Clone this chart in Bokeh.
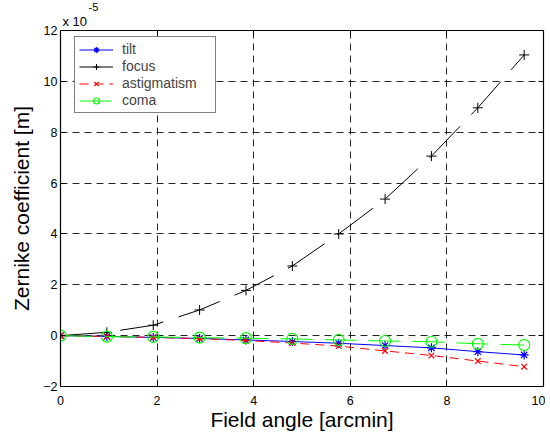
from bokeh.plotting import figure
from bokeh.models import LinearAxis, FixedTicker, Legend, LegendItem, Title
from bokeh.embed import file_html
from bokeh.resources import INLINE

# Data (values in units of 1e-5 m)
field_angle = [0, 0.96, 1.92, 2.88, 3.84, 4.8, 5.76, 6.72, 7.68, 8.64, 9.6]
tilt = [0, -0.03, -0.07, -0.11, -0.17, -0.23, -0.30, -0.39, -0.48, -0.63, -0.76]
focus = [0, 0.13, 0.41, 1.01, 1.78, 2.74, 4.00, 5.37, 7.06, 8.96, 11.04]
astigmatism = [0, -0.03, -0.07, -0.12, -0.19, -0.29, -0.41, -0.60, -0.78, -1.00, -1.22]
coma = [0, -0.04, -0.05, -0.08, -0.10, -0.13, -0.17, -0.21, -0.24, -0.32, -0.37]
x_ticks = [0, 2, 4, 6, 8, 10]
y_ticks = [-2, 0, 2, 4, 6, 8, 10, 12]

FONT = "Liberation Sans"

p = figure(frame_width=483, frame_height=356, x_range=(0, 10), y_range=(-2, 12),
           output_backend="svg", toolbar_location=None, title_location=None,
           min_border_left=60, min_border_top=30, min_border_right=2, min_border_bottom=45,
           background_fill_color="white", border_fill_color="white")
p.outline_line_color = "black"
p.outline_line_width = 1.2

for ax in (p.xaxis[0], p.yaxis[0]):
    ax.major_tick_in = 5
    ax.major_tick_out = 0
    ax.minor_tick_in = 0
    ax.minor_tick_out = 0
    ax.axis_line_color = "black"
    ax.major_label_text_font = FONT
    ax.major_label_text_font_size = "12.5px"
    ax.major_label_text_color = "black"
    ax.axis_label_text_font = FONT
    ax.axis_label_text_font_size = "21px"
    ax.axis_label_text_font_style = "normal"
    ax.axis_label_text_color = "black"
p.xaxis[0].ticker = FixedTicker(ticks=x_ticks)
p.yaxis[0].ticker = FixedTicker(ticks=y_ticks)
p.xaxis[0].axis_label = "Field angle [arcmin]"
p.yaxis[0].axis_label = "Zernike coefficient [m]"
p.xaxis[0].major_label_standoff = 9
p.yaxis[0].major_label_standoff = 3
p.xaxis[0].axis_label_standoff = 0
p.yaxis[0].axis_label_standoff = 7

# Box ticks on top and right
for loc, tick in (("above", x_ticks), ("right", y_ticks)):
    ax = LinearAxis(ticker=FixedTicker(ticks=tick), major_tick_in=5, major_tick_out=0,
                    minor_tick_in=0, minor_tick_out=0, major_label_text_font_size="0px",
                    major_label_standoff=0, axis_line_color="black")
    p.add_layout(ax, loc)

p.xgrid.ticker = FixedTicker(ticks=x_ticks)
p.ygrid.ticker = FixedTicker(ticks=y_ticks)
for g in (p.xgrid[0], p.ygrid[0]):
    g.grid_line_color = "black"
    g.grid_line_dash = "7 5"
    g.grid_line_width = 1
    g.grid_line_alpha = 0.85

l1 = p.line(field_angle, tilt, line_color="blue", line_width=1)
s1 = p.scatter(field_angle, tilt, marker="asterisk", size=9, line_color="blue", line_width=1.2)
l2 = p.line(field_angle, focus, line_color="black", line_width=1, line_dash="44 16")
s2 = p.scatter(field_angle, focus, marker="cross", size=10, line_color="black", line_width=1)
l3 = p.line(field_angle, astigmatism, line_color="red", line_width=1, line_dash="9 6")
s3 = p.scatter(field_angle, astigmatism, marker="x", size=8, line_color="red", line_width=1.2)
l4 = p.line(field_angle, coma, line_color="#00ff00", line_width=1, line_dash="32 12")
s4 = p.scatter(field_angle, coma, marker="circle", size=11, line_color="#00ff00",
               fill_color=None, line_width=1.2)

legend = Legend(items=[
    LegendItem(label="tilt", renderers=[l1, s1]),
    LegendItem(label="focus", renderers=[l2, s2]),
    LegendItem(label="astigmatism", renderers=[l3, s3]),
    LegendItem(label="coma", renderers=[l4, s4]),
], location=(14, 273))
legend.border_line_color = "black"
legend.border_line_width = 1
legend.background_fill_color = "white"
legend.background_fill_alpha = 1
legend.label_text_font = FONT
legend.label_text_font_size = "14px"
legend.label_height = 15
legend.glyph_height = 15
legend.glyph_width = 34
legend.label_width = 89
legend.spacing = 1
legend.padding = 4
legend.margin = 0
legend.label_standoff = 9
p.add_layout(legend)

# "x 10^-5" multiplier above the axes
p.add_layout(Title(text="x 10", align="left", offset=2, standoff=4, text_font=FONT,
                   text_font_size="13px", text_font_style="normal", text_color="black"),
             "above")
p.add_layout(Title(text="-5", align="left", offset=28, standoff=-3, text_font=FONT,
                   text_font_size="11px", text_font_style="normal", text_color="black"),
             "above")

open("out.html", "w").write(file_html(p, INLINE))
